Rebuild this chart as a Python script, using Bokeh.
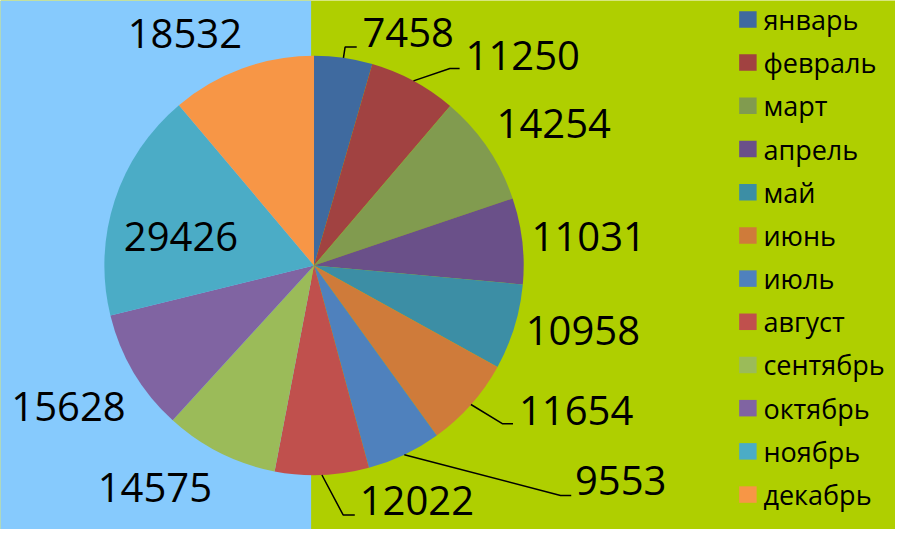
import math
from bokeh.plotting import figure
from bokeh.models import Range1d, BoxAnnotation
from bokeh.core.properties import value
from bokeh.embed import file_html
from bokeh.resources import INLINE

# ---- data ----
months = ["январь", "февраль", "март", "апрель", "май", "июнь",
          "июль", "август", "сентябрь", "октябрь", "ноябрь", "декабрь"]
sales = [7458, 11250, 14254, 11031, 10958, 11654,
         9553, 12022, 14575, 15628, 29426, 18532]
colors = ["#3F6A9F", "#A14241", "#819B4F", "#6A5089", "#3C8EA5", "#CF7B3A",
          "#4F81BD", "#C0504D", "#9BBB59", "#8064A2", "#4BACC6", "#F79646"]

# ---- layout (reference pixel positions, y downward) ----
CX, CY, R = 323, 273, 216
label_pos = [(420, 33), (538, 57), (570, 127), (606, 243), (600, 340), (593, 422),
             (639, 495), (429, 515), (159, 502), (70, 418), (186, 243), (190, 34)]
# leader lines: index -> (elbow, end)
leaders = {0: ((355, 48), (367, 48)),
           1: ((463, 70), (473, 70)),
           5: ((517, 436), (528, 436)),
           6: ((577, 510), (588, 510)),
           7: ((353, 530), (365, 530))}

W, H = 895, 529
S = H / 545.0
p = figure(width=W, height=H, output_backend="svg", toolbar_location=None,
           x_range=Range1d(0, W / S), y_range=Range1d(-H / S, 0),
           min_border=0, background_fill_color="#AFCF00",
           border_fill_color="#AFCF00")
p.axis.visible = False
p.grid.visible = False
p.outline_line_color = None

p.add_layout(BoxAnnotation(left=-10, right=320, fill_color="#86CAFD", fill_alpha=1,
                           line_color=None, level="underlay"))

total = float(sum(sales))
starts, ends, mids = [], [], []
acc = 0.0
for v in sales:
    a0 = acc / total
    acc += v
    a1 = acc / total
    starts.append(math.pi / 2 - 2 * math.pi * a0)
    ends.append(math.pi / 2 - 2 * math.pi * a1)
    mids.append(2 * math.pi * (a0 + a1) / 2)

p.wedge(x=CX, y=-CY, radius=R, start_angle=starts, end_angle=ends,
        direction="clock", fill_color=colors, line_color=None)

# leader lines
xs, ys = [], []
for i, (elb, end) in leaders.items():
    sx = CX + R * math.sin(mids[i])
    sy = CY - R * math.cos(mids[i])
    xs.append([sx, elb[0], end[0]])
    ys.append([-sy, -elb[1], -end[1]])
p.multi_line(xs=xs, ys=ys, line_color="black", line_width=1.5)

# data labels
p.text(x=[lp[0] for lp in label_pos], y=[-lp[1] for lp in label_pos],
       text=[str(v) for v in sales], text_font=value("Open Sans"),
       text_font_size="40px", text_align="center", text_baseline="middle",
       text_color="black")

# legend
ly = [19.5 + 44.5 * i for i in range(len(months))]
p.rect(x=[770] * len(months), y=[-y for y in ly], width=18, height=17,
       fill_color=colors, line_color=None)
p.text(x=[786] * len(months), y=[-y for y in ly], text=months,
       text_font=value("Open Sans"), text_font_size="27px", text_align="left",
       text_baseline="middle", text_color="black")

open("out.html", "w").write(file_html(p, INLINE))
